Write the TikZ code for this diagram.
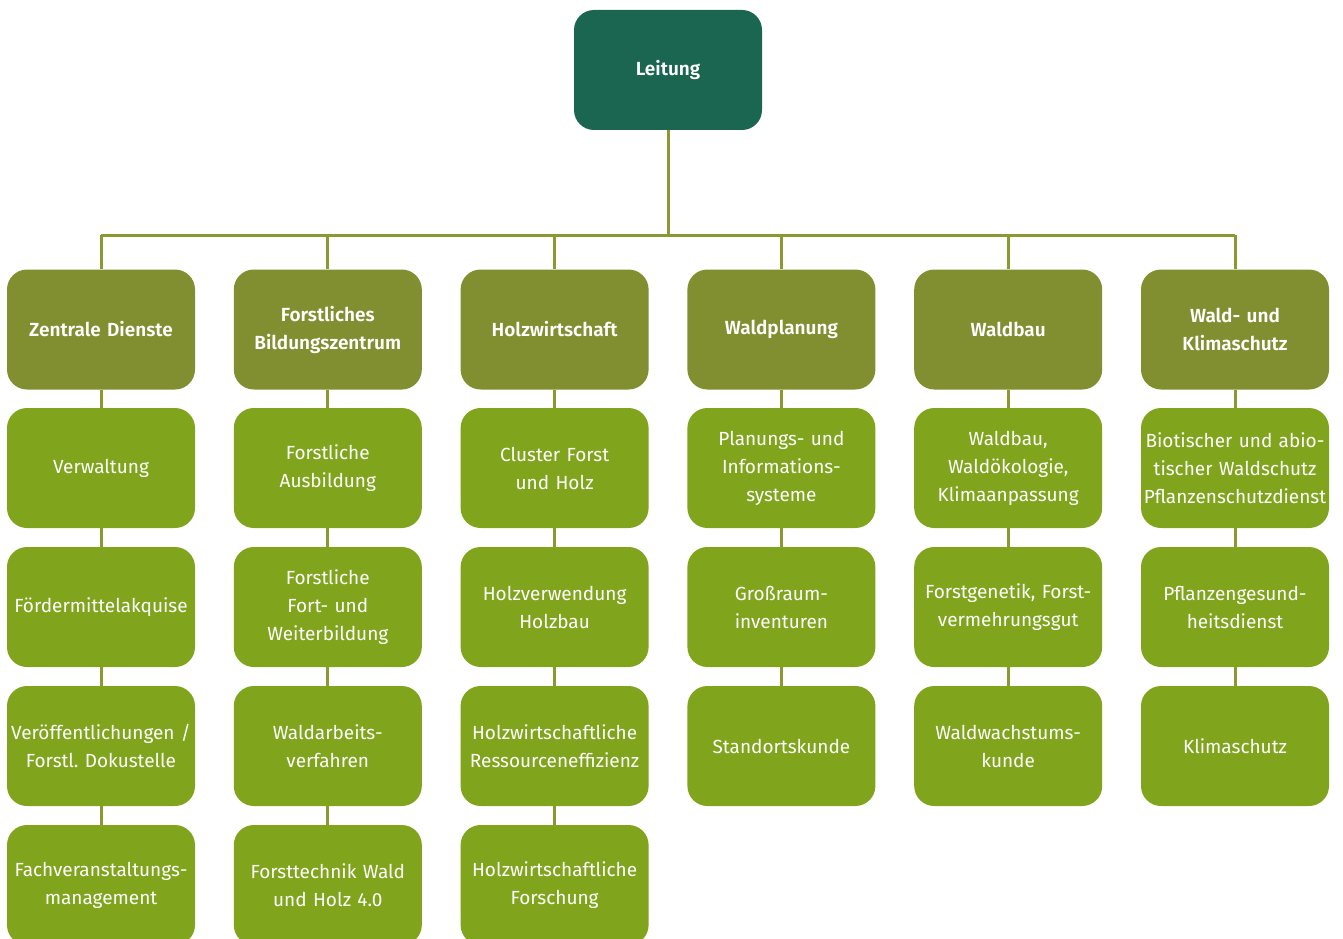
\documentclass[tikz,border=0pt]{standalone}
\usepackage{fontspec}
\setmainfont{Fira Sans}[BoldFont={Fira Sans SemiBold}]
\usepackage{tikz}
\frenchspacing
\definecolor{leitgreen}{HTML}{1A6650}
\definecolor{headolive}{HTML}{818F31}
\definecolor{unitgreen}{HTML}{80A51D}
\definecolor{linkolive}{HTML}{8A9A30}
\tikzstyle{box}=[rectangle, rounded corners=20pt, minimum width=188pt, minimum height=120pt, text width=188pt, align=center, inner sep=0pt, text=white, font=\fontsize{19}{28}\selectfont]
\tikzstyle{lead}=[box, fill=leitgreen, font=\fontsize{19}{28}\selectfont\bfseries]
\tikzstyle{head}=[box, fill=headolive, font=\fontsize{19}{28}\selectfont\bfseries]
\tikzstyle{unit}=[box, fill=unitgreen]
\tikzstyle{link}=[draw=linkolive, line width=3pt]

\begin{document}
\begin{tikzpicture}[x=1pt, y=-1pt]
                    \useasboundingbox (0,0) rectangle (1343,939);
                    \node[lead] (lt) at (668, 70) {Leitung};
                    % Abteilungen
                    \node[head] (zd) at (101.0, 329.5) {Zentrale Dienste};
                    \node[head] (fb) at (327.8, 329.5) {Forstliches\\Bildungszentrum};
                    \node[head] (hw) at (554.6, 329.5) {Holzwirtschaft};
                    \node[head] (wp) at (781.4, 329.5) {Waldplanung};
                    \node[head] (wb) at (1008.2, 329.5) {Waldbau};
                    \node[head] (wk) at (1235.0, 329.5) {Wald- und\\Klimaschutz};
                    % Sachgebiete
                    \node[unit] (zd1) at (101.0, 468) {Verwaltung};
                    \node[unit] (zd2) at (101.0, 607) {Fördermittelakquise};
                    \node[unit] (zd3) at (101.0, 746) {Veröffentlichungen /\\Forstl. Dokustelle};
                    \node[unit] (zd4) at (101.0, 885) {Fachveranstaltungs-\\management};
                    \node[unit] (fb1) at (327.8, 468) {Forstliche\\Ausbildung};
                    \node[unit] (fb2) at (327.8, 607) {Forstliche\\Fort- und\\Weiterbildung};
                    \node[unit] (fb3) at (327.8, 746) {Waldarbeits-\\verfahren};
                    \node[unit] (fb4) at (327.8, 885) {Forsttechnik Wald\\und Holz 4.0};
                    \node[unit] (hw1) at (554.6, 468) {Cluster Forst\\und Holz};
                    \node[unit] (hw2) at (554.6, 607) {Holzverwendung\\Holzbau};
                    \node[unit] (hw3) at (554.6, 746) {Holzwirtschaftliche\\Ressourceneffizienz};
                    \node[unit] (hw4) at (554.6, 885) {Holzwirtschaftliche\\Forschung};
                    \node[unit] (wp1) at (781.4, 468) {Planungs- und\\Informations-\\systeme};
                    \node[unit] (wp2) at (781.4, 607) {Großraum-\\inventuren};
                    \node[unit] (wp3) at (781.4, 746) {Standortskunde};
                    \node[unit] (wb1) at (1008.2, 468) {Waldbau,\\Waldökologie,\\Klimaanpassung};
                    \node[unit] (wb2) at (1008.2, 607) {Forstgenetik, Forst-\\vermehrungsgut};
                    \node[unit] (wb3) at (1008.2, 746) {Waldwachstums-\\kunde};
                    \node[unit] (wk1) at (1235.0, 468) {Biotischer und abio-\\tischer Waldschutz\\Pflanzenschutzdienst};
                    \node[unit] (wk2) at (1235.0, 607) {Pflanzengesund-\\heitsdienst};
                    \node[unit] (wk3) at (1235.0, 746) {Klimaschutz};
                    % Verbindungen
                    \coordinate (bus) at (668, 235);
                    \draw[link]  (lt.south) -- (bus);
                    \draw[link]  (zd.north|-bus) -- (wk.north|-bus);
                    \draw[link]  (zd.north|-bus) -- (zd.north);
                    \draw[link]  (fb.north|-bus) -- (fb.north);
                    \draw[link]  (hw.north|-bus) -- (hw.north);
                    \draw[link]  (wp.north|-bus) -- (wp.north);
                    \draw[link]  (wb.north|-bus) -- (wb.north);
                    \draw[link]  (wk.north|-bus) -- (wk.north);
                    \draw[link]  (zd)--(zd1) (zd1)--(zd2) (zd2)--(zd3) (zd3)--(zd4);
                    \draw[link]  (fb)--(fb1) (fb1)--(fb2) (fb2)--(fb3) (fb3)--(fb4);
                    \draw[link]  (hw)--(hw1) (hw1)--(hw2) (hw2)--(hw3) (hw3)--(hw4);
                    \draw[link]  (wp)--(wp1) (wp1)--(wp2) (wp2)--(wp3);
                    \draw[link]  (wb)--(wb1) (wb1)--(wb2) (wb2)--(wb3);
                    \draw[link]  (wk)--(wk1) (wk1)--(wk2) (wk2)--(wk3);
                \end{tikzpicture}
\end{document}
